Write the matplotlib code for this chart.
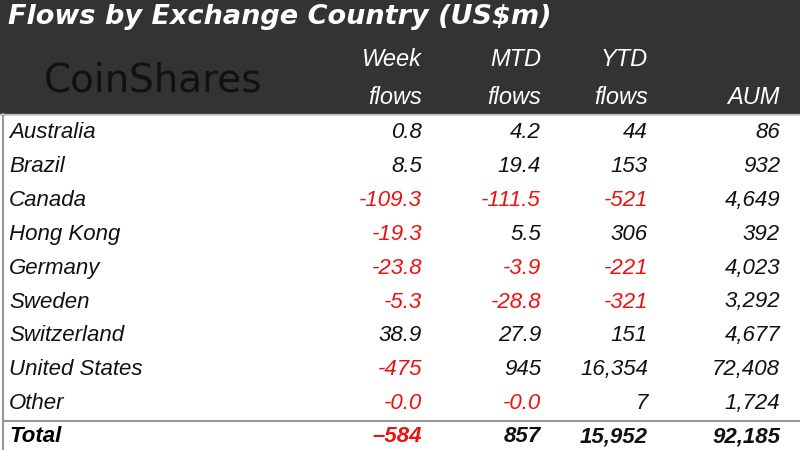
import matplotlib
matplotlib.use("Agg")
import matplotlib.pyplot as plt
from matplotlib import font_manager

countries = ["Australia", "Brazil", "Canada", "Hong Kong", "Germany", "Sweden",
             "Switzerland", "United States", "Other"]
week = ["0.8", "8.5", "-109.3", "-19.3", "-23.8", "-5.3", "38.9", "-475", "-0.0"]
mtd = ["4.2", "19.4", "-111.5", "5.5", "-3.9", "-28.8", "27.9", "945", "-0.0"]
ytd = ["44", "153", "-521", "306", "-221", "-321", "151", "16,354", "7"]
aum = ["86", "932", "4,649", "392", "4,023", "3,292", "4,677", "72,408", "1,724"]
totals = ["-584", "857", "15,952", "92,185"]
headers_top = ["Week", "MTD", "YTD", ""]
headers_bot = ["flows", "flows", "flows", "AUM"]

names = {f.name for f in font_manager.fontManager.ttflist}
fam = "Liberation Sans Narrow" if "Liberation Sans Narrow" in names else "Liberation Sans"

fig = plt.figure(figsize=(8, 4.5), dpi=100)
ax = fig.add_axes([0, 0, 1, 1])
ax.set_xlim(0, 800)
ax.set_ylim(450, 0)
ax.axis("off")

ax.add_patch(plt.Rectangle((0, 0), 800, 114, color="#333333", zorder=0))
ax.plot([3, 3], [114, 450], color="#999999", lw=1.5)
ax.plot([0, 800], [114, 114], color="#bbbbbb", lw=1)
ax.plot([3, 800], [421, 421], color="#999999", lw=1.5)

ax.text(8, 17, "Flows by Exchange Country (US$m)", color="white", fontsize=19.5,
        fontweight="bold", fontstyle="italic", family="DejaVu Sans", va="center")
ax.text(44, 80, "CoinShares", color="#111111", fontsize=28, family="DejaVu Sans", va="center")

xs = [422, 541, 648, 780]
for x, t, b in zip(xs, headers_top, headers_bot):
    ax.text(x, 59, t, color="white", fontsize=17, fontstyle="italic", family=fam, ha="right", va="center")
    ax.text(x, 97, b, color="white", fontsize=17, fontstyle="italic", family=fam, ha="right", va="center")

def col(v):
    return "#ee1111" if v.startswith("-") else "#111111"

for i, c in enumerate(countries):
    y = 133 + i * 33.8
    ax.text(9, y, c, fontsize=16, fontstyle="italic", family=fam, va="center", color="#111111")
    for x, arr in zip(xs, [week, mtd, ytd, aum]):
        v = arr[i]
        ax.text(x, y, v, fontsize=16, fontstyle="italic", family=fam, ha="right", va="center", color=col(v))

ax.text(9, 437, "Total", fontsize=16, fontstyle="italic", fontweight="bold", family=fam, va="center")
for x, v in zip(xs, totals):
    ax.text(x, 437, v.replace("-", "–"), fontsize=16, fontstyle="italic", fontweight="bold", family=fam,
            ha="right", va="center", color=col(v))

fig.savefig("out.png", dpi=100)
